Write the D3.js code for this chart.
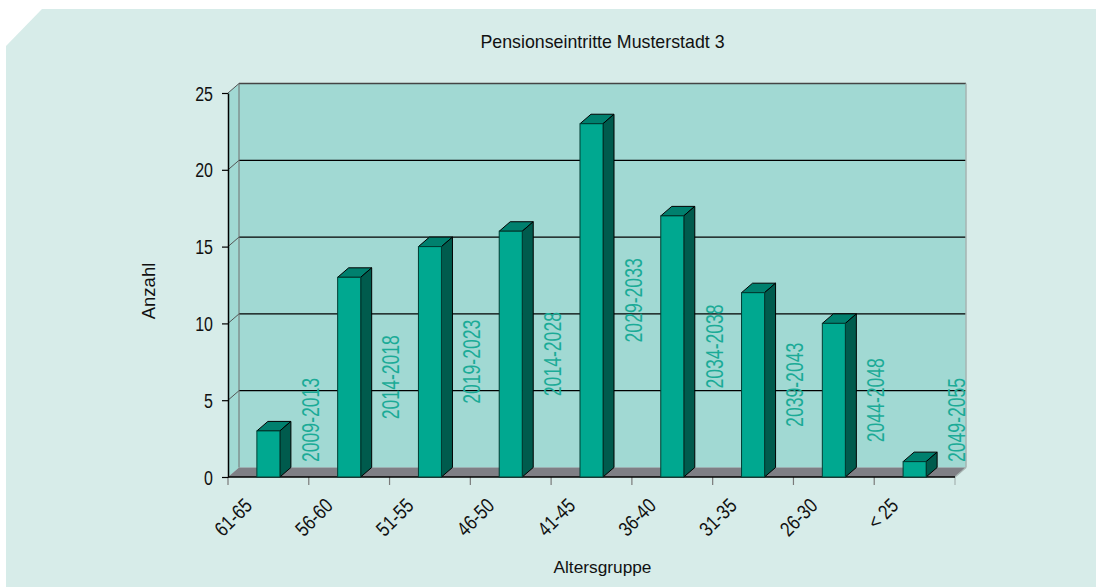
<!DOCTYPE html>
<html>
<head>
<meta charset="utf-8">
<script src="https://cdn.jsdelivr.net/npm/d3@7"></script>
<style>
  html, body { margin: 0; padding: 0; background: #ffffff; }
  svg { display: block; }
  text { font-family: "Liberation Sans", Arial, sans-serif; }
</style>
</head>
<body>
<script>
// Pension entries per age group, with the period in which each group retires
const categories = ["61-65", "56-60", "51-55", "46-50", "41-45", "36-40", "31-35", "26-30", "< 25"];
const counts = [3, 13, 15, 16, 23, 17, 12, 10, 1];
const periods = ["2009-2013", "2014-2018", "2019-2023", "2014-2028", "2029-2033", "2034-2038", "2039-2043", "2044-2048", "2049-2055"];
const yTicks = [0, 5, 10, 15, 20, 25];

const chartTitle = "Pensionseintritte Musterstadt 3";
const xTitle = "Altersgruppe";
const yTitle = "Anzahl";

const W = 1096, H = 587;

// front plane of the 3D box and its depth offset
const plotLeft = 228, plotRight = 955, plotBottom = 477, plotTop = 93;
const dx = 11, dy = -9.5;

const C = {
  panel: "#d7ece9",
  wall: "#a1d9d3",
  floor: "#7f7f85",
  front: "#00a890",
  topFace: "#00806e",
  side: "#005b4d",
  period: "#1bab97",
  ink: "#111111"
};
const narrow = 0.82;       // horizontal squeeze for condensed axis labels
const narrowPeriod = 0.765; // squeeze for the period labels

const pts = arr => arr.map(p => p.join(",")).join(" ");

const svg = d3.select("body").append("svg")
  .attr("width", W).attr("height", H);

// background panel with cut corner
svg.append("polygon")
  .attr("points", pts([[6, 46], [42, 9], [W, 9], [W, H], [6, H]]))
  .attr("fill", C.panel);

const x = d3.scaleBand()
  .domain(categories)
  .range([plotLeft, plotRight])
  .paddingInner(0.715)
  .paddingOuter(0.3575);

const y = d3.scaleLinear()
  .domain([0, 25])
  .range([plotBottom, plotTop]);

const g = svg.append("g");

// side wall
g.append("polygon")
  .attr("points", pts([[plotLeft, y(0)], [plotLeft, y(25)], [plotLeft + dx, y(25) + dy], [plotLeft + dx, y(0) + dy]]))
  .attr("fill", C.wall);

// back wall
g.append("rect")
  .attr("x", plotLeft + dx).attr("y", y(25) + dy)
  .attr("width", plotRight - plotLeft).attr("height", y(0) - y(25))
  .attr("fill", C.wall);

// floor
g.append("polygon")
  .attr("points", pts([[plotLeft, y(0)], [plotRight, y(0)], [plotRight + dx, y(0) + dy], [plotLeft + dx, y(0) + dy]]))
  .attr("fill", C.floor);

// gridlines on the back wall and their continuation across the side wall
const inner = yTicks.filter(t => t > 0 && t < 25);
g.selectAll("line.grid").data(inner).join("line")
  .attr("class", "grid")
  .attr("x1", plotLeft + dx).attr("x2", plotRight + dx)
  .attr("y1", d => y(d) + dy).attr("y2", d => y(d) + dy)
  .attr("stroke", "#000").attr("stroke-width", 1.3);

g.selectAll("line.diag").data(yTicks.filter(t => t > 0)).join("line")
  .attr("class", "diag")
  .attr("x1", plotLeft).attr("x2", plotLeft + dx)
  .attr("y1", d => y(d)).attr("y2", d => y(d) + dy)
  .attr("stroke", "#555").attr("stroke-width", 1);

// wall outlines
g.append("line")
  .attr("x1", plotLeft + dx).attr("x2", plotRight + dx)
  .attr("y1", y(25) + dy).attr("y2", y(25) + dy)
  .attr("stroke", "#444").attr("stroke-width", 1.5);
g.append("line")
  .attr("x1", plotRight + dx).attr("x2", plotRight + dx)
  .attr("y1", y(25) + dy).attr("y2", y(0) + dy)
  .attr("stroke", "#a6b4b2").attr("stroke-width", 1.5);
g.append("line")
  .attr("x1", plotLeft + dx).attr("x2", plotLeft + dx)
  .attr("y1", y(25) + dy).attr("y2", y(0) + dy)
  .attr("stroke", "#6f6f6f").attr("stroke-width", 1);
g.append("line")
  .attr("x1", plotRight).attr("x2", plotRight + dx)
  .attr("y1", y(0)).attr("y2", y(0) + dy)
  .attr("stroke", "#a6b4b2").attr("stroke-width", 1.2);

// category ticks at band boundaries
const bounds = d3.range(categories.length + 1).map(i => plotLeft + i * x.step());
g.selectAll("line.xtick").data(bounds).join("line")
  .attr("class", "xtick")
  .attr("x1", d => d).attr("x2", d => d)
  .attr("y1", y(0)).attr("y2", y(0) + 8)
  .attr("stroke", (d, i) => i === categories.length ? "#a6b4b2" : "#7a7a7a")
  .attr("stroke-width", 1.2);

// front edge of the floor
g.append("line")
  .attr("x1", plotLeft).attr("x2", plotRight)
  .attr("y1", y(0)).attr("y2", y(0))
  .attr("stroke", "#000").attr("stroke-width", 1.5);

// value axis
const yAxis = g.append("g")
  .attr("transform", `translate(${plotLeft},0)`)
  .call(d3.axisLeft(y).tickValues(yTicks).tickSize(6).tickSizeOuter(0));
yAxis.attr("font-family", null).attr("font-size", null);
yAxis.select(".domain").attr("stroke", "#000").attr("stroke-width", 1.5);
yAxis.selectAll(".tick line").attr("stroke", "#000").attr("stroke-width", 1.2);
yAxis.selectAll(".tick text")
  .attr("x", null).attr("dy", "0.36em")
  .attr("transform", `translate(-15,0) scale(${narrow},1)`)
  .attr("text-anchor", "end")
  .attr("font-size", 19.5)
  .attr("fill", C.ink);

// bars
const bw = x.bandwidth();
const bars = g.selectAll("g.bar").data(categories.map((c, i) => ({ c, v: counts[i] }))).join("g")
  .attr("class", "bar");

bars.append("polygon")
  .attr("points", d => {
    const x0 = x(d.c), x1 = x0 + bw, yt = y(d.v);
    return pts([[x0, yt], [x1, yt], [x1 + dx, yt + dy], [x0 + dx, yt + dy]]);
  })
  .attr("fill", C.topFace).attr("stroke", "#000").attr("stroke-width", 1).attr("stroke-linejoin", "round");

bars.append("polygon")
  .attr("points", d => {
    const x1 = x(d.c) + bw, yt = y(d.v), yb = y(0);
    return pts([[x1, yb], [x1, yt], [x1 + dx, yt + dy], [x1 + dx, yb + dy]]);
  })
  .attr("fill", C.side).attr("stroke", "#000").attr("stroke-width", 1).attr("stroke-linejoin", "round");

bars.append("rect")
  .attr("x", d => x(d.c)).attr("y", d => y(d.v))
  .attr("width", bw).attr("height", d => y(0) - y(d.v))
  .attr("fill", C.front).attr("stroke", "#003d33").attr("stroke-width", 1);

// retirement period beside each bar, centred on half the bar height
const periodLabels = g.selectAll("text.period").data(categories.map((c, i) => ({ c, v: counts[i], p: periods[i] }))).join("text")
  .attr("class", "period")
  .attr("text-anchor", "middle")
  .attr("dy", "0.36em")
  .attr("font-size", 23)
  .attr("fill", C.period)
  .text(d => d.p);

periodLabels.attr("transform", function (d) {
  const len = this.getComputedTextLength() * narrowPeriod;
  const cx = x(d.c) + bw / 2 + x.step() * 0.52;
  const cy = Math.min(y(d.v / 2), y(0) - 15 - len / 2);
  return `translate(${cx},${cy}) rotate(-90) scale(${narrowPeriod},1)`;
});

// category labels
g.selectAll("text.cat").data(categories).join("text")
  .attr("class", "cat")
  .attr("text-anchor", "end")
  .attr("font-size", 20.5)
  .attr("fill", C.ink)
  .attr("transform", d => `translate(${x(d) + bw / 2 - 15},${y(0) + 30}) rotate(-45) scale(${narrow},1)`)
  .text(d => d);

// titles
svg.append("text")
  .attr("x", 602.5).attr("y", 47.7)
  .attr("text-anchor", "middle")
  .attr("font-size", 17.8)
  .attr("fill", C.ink)
  .text(chartTitle);

svg.append("text")
  .attr("x", 602.5).attr("y", 573)
  .attr("text-anchor", "middle")
  .attr("font-size", 17.3)
  .attr("fill", C.ink)
  .text(xTitle);

svg.append("text")
  .attr("transform", "translate(155,291) rotate(-90)")
  .attr("text-anchor", "middle")
  .attr("font-size", 18.5)
  .attr("fill", C.ink)
  .text(yTitle);
</script>
</body>
</html>
